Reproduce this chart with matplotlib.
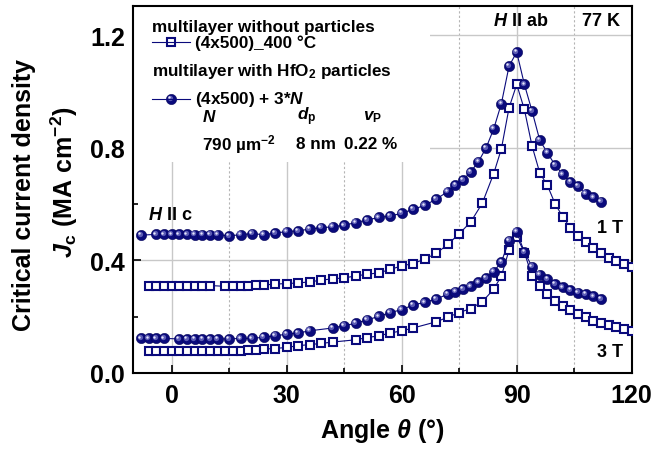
import numpy as np
import matplotlib
matplotlib.use("Agg")
import matplotlib.pyplot as plt
from matplotlib.transforms import offset_copy
from matplotlib.ticker import MultipleLocator
from matplotlib.patches import Rectangle

plt.rcParams["font.family"] = ["Liberation Sans", "DejaVu Sans"]
plt.rcParams["font.weight"] = "bold"
plt.rcParams["mathtext.fontset"] = "custom"
plt.rcParams["mathtext.rm"] = "Liberation Sans:bold"
plt.rcParams["mathtext.bf"] = "Liberation Sans:bold"
plt.rcParams["mathtext.it"] = "Liberation Sans:bold:italic"

# 1 T, multilayer with HfO2 particles (spheres)
ang_1t_p = [-8, -4, -2, 0, 2, 4, 6, 8, 10, 12,
            15, 18, 21, 24, 27, 30, 33, 36, 39, 42, 45, 48, 51, 54, 57, 60, 63, 66, 69,
            72, 74, 76, 78, 80, 82, 84, 86, 88, 90, 92, 94, 96, 98, 100, 102, 104, 106, 108, 110, 112]
jc_1t_p = [0.490, 0.493, 0.493, 0.493, 0.493, 0.493, 0.492, 0.492, 0.492, 0.492,
           0.487, 0.492, 0.495, 0.492, 0.497, 0.503, 0.505, 0.512, 0.516, 0.520, 0.525, 0.535,
           0.544, 0.553, 0.558, 0.568, 0.582, 0.596, 0.618,
           0.645, 0.668, 0.686, 0.715, 0.751, 0.800, 0.868, 0.958, 1.091, 1.141, 1.026, 0.931,
           0.828, 0.783, 0.739, 0.706, 0.679, 0.665, 0.638, 0.624, 0.609]

# 1 T, multilayer without particles (squares)
ang_1t_np = [-6, -4, -2, 0, 2, 4, 6, 8, 10,
             14, 16, 18, 20, 22, 24,
             27, 30, 33, 36, 39, 42, 45, 48, 51, 54, 57, 60, 63, 66, 69, 72, 75, 78, 81, 84,
             86, 88, 90, 92, 94, 96, 98, 100, 102, 104, 106, 108, 110, 112, 114, 116, 118, 120]
jc_1t_np = [0.311, 0.311, 0.311, 0.311, 0.311, 0.311, 0.311, 0.311, 0.311,
            0.308, 0.310, 0.310, 0.311, 0.312, 0.313,
            0.316, 0.318, 0.320, 0.324, 0.330, 0.335, 0.338, 0.345, 0.351, 0.356, 0.368, 0.381,
            0.389, 0.405, 0.425, 0.457, 0.495, 0.537, 0.603, 0.709,
            0.797, 0.943, 1.026, 0.937, 0.807, 0.712, 0.667, 0.602, 0.555, 0.516, 0.487, 0.464,
            0.443, 0.426, 0.410, 0.399, 0.387, 0.378]

# 3 T, with particles (spheres)
ang_3t_p = [-8, -6, -4, -2, 2, 4, 6, 8, 10, 12,
            15, 18, 21, 24, 27, 30, 33, 36,
            42, 45, 48, 51, 54, 57, 60, 63, 66, 69,
            72, 74, 76, 78, 80, 82, 84, 86, 88, 90,
            92, 94, 96, 98, 100, 102, 104, 106, 108, 110, 112]
jc_3t_p = [0.123, 0.123, 0.123, 0.123, 0.121, 0.121, 0.121, 0.121, 0.121, 0.121,
           0.121, 0.123, 0.123, 0.127, 0.132, 0.138, 0.142, 0.150,
           0.160, 0.168, 0.177, 0.189, 0.201, 0.215, 0.225, 0.242, 0.251, 0.263,
           0.280, 0.289, 0.298, 0.308, 0.322, 0.337, 0.360, 0.395, 0.470, 0.502,
           0.430, 0.378, 0.350, 0.334, 0.316, 0.304, 0.295, 0.286, 0.280, 0.272, 0.263]

# 3 T, without particles (squares)
ang_3t_np = [-6, -4, -2, 0, 2, 4, 6, 8, 10, 12, 14, 16, 18, 20, 22, 24,
             27, 30, 33, 36, 39, 42, 48, 51, 54, 57, 60, 63,
             69, 72, 75, 78, 81, 84, 86, 88, 90,
             92, 94, 96, 98, 100, 102, 104, 106, 108, 110, 112, 114, 116, 118, 120]
jc_3t_np = [0.079, 0.079, 0.079, 0.079, 0.079, 0.079, 0.079, 0.079, 0.079, 0.079, 0.079,
            0.079, 0.079, 0.081, 0.083, 0.085,
            0.087, 0.091, 0.097, 0.101, 0.105, 0.110, 0.118, 0.126, 0.132, 0.142, 0.150, 0.160,
            0.182, 0.198, 0.215, 0.229, 0.253, 0.298, 0.345, 0.437, 0.485,
            0.428, 0.345, 0.308, 0.280, 0.257, 0.239, 0.224, 0.209, 0.198, 0.186, 0.177,
            0.170, 0.162, 0.156, 0.150]

navy = "#0a0a7c"


def draw_squares(ax, x, y, tr):
    ax.plot(x, y, "-", color=navy, lw=0.8, transform=tr, zorder=3)
    ax.plot(x, y, "s", ms=5.4, mfc="white", mec=navy, mew=1.5, transform=tr, zorder=3.5)


def draw_spheres(ax, x, y, tr):
    fig = ax.figure
    ax.plot(x, y, "-", color=navy, lw=0.8, transform=tr, zorder=4)
    ax.plot(x, y, "o", ms=7.4, mfc=navy, mec="#05055a", mew=0.4, transform=tr, zorder=4.5)
    h1 = offset_copy(tr, fig=fig, x=-1.0, y=1.0, units="points")
    ax.plot(x, y, "o", ms=3.8, mfc="#5c5cb4", mec="none", transform=h1, zorder=5)
    h2 = offset_copy(tr, fig=fig, x=-1.3, y=1.3, units="points")
    ax.plot(x, y, "o", ms=1.7, mfc="#e6e6fa", mec="none", transform=h2, zorder=5.5)


fig = plt.figure(figsize=(6.55, 4.52), dpi=100)
ax = fig.add_axes([0.2035, 0.1726, 0.761, 0.812])

ax.set_xlim(-10, 120)
ax.set_ylim(0, 1.305)
ax.xaxis.set_major_locator(MultipleLocator(30))
ax.xaxis.set_minor_locator(MultipleLocator(15))
ax.yaxis.set_major_locator(MultipleLocator(0.4))
ax.yaxis.set_minor_locator(MultipleLocator(0.2))
ax.yaxis.set_major_formatter(matplotlib.ticker.FormatStrFormatter("%.1f"))
ax.set_axisbelow(True)
ax.grid(which="major", color="#c8c8c8", lw=1.0, ls="-")
ax.grid(which="minor", axis="x", color="#b4b4b4", lw=0.8, ls=(0, (2, 2)))
ax.tick_params(which="both", direction="in", width=1.2, labelsize=18)
ax.tick_params(which="major", length=5.5)
ax.tick_params(which="minor", length=3.5)
ax.tick_params(axis="y", pad=6)
ax.tick_params(axis="x", pad=7)
for sp in ax.spines.values():
    sp.set_linewidth(1.5)

draw_squares(ax, ang_1t_np, jc_1t_np, ax.transData)
draw_squares(ax, ang_3t_np, jc_3t_np, ax.transData)
draw_spheres(ax, ang_1t_p, jc_1t_p, ax.transData)
draw_spheres(ax, ang_3t_p, jc_3t_p, ax.transData)

# white legend panel
ax.add_patch(Rectangle((0, 0.575), 0.595, 0.425, transform=ax.transAxes,
                       facecolor="white", edgecolor="none", zorder=1))

fs = 12.3
ax.text(0.037, 0.943, "multilayer without particles", transform=ax.transAxes,
        fontsize=fs, va="center", zorder=6)
ax.plot([0.0375, 0.114], [0.901, 0.901], color=navy, lw=0.8, transform=ax.transAxes, zorder=6)
draw_squares(ax, [0.076], [0.901], ax.transAxes)
ax.text(0.124, 0.901, "(4x500)_400 °C", transform=ax.transAxes, fontsize=fs, va="center", zorder=6)
ax.text(0.037, 0.823, "multilayer with HfO$_2$ particles", transform=ax.transAxes,
        fontsize=fs, va="center", zorder=6)
ax.plot([0.0375, 0.114], [0.7466, 0.7466], color=navy, lw=0.8, transform=ax.transAxes, zorder=6)
draw_spheres(ax, [0.076], [0.7466], ax.transAxes)
ax.text(0.124, 0.7466, "(4x500) + 3*$N$", transform=ax.transAxes, fontsize=fs, va="center", zorder=6)

ax.text(0.137, 0.700, "$N$", transform=ax.transAxes, fontsize=fs, va="center")
ax.text(0.328, 0.700, r"$d_\mathrm{p}$", transform=ax.transAxes, fontsize=fs, va="center")
ax.text(0.461, 0.700, r"$v_\mathrm{P}$", transform=ax.transAxes, fontsize=fs, va="center")
ax.text(0.138, 0.624, "790 µm$^{-2}$", transform=ax.transAxes, fontsize=fs, va="center")
ax.text(0.326, 0.624, "8 nm", transform=ax.transAxes, fontsize=fs, va="center")
ax.text(0.423, 0.624, "0.22 %", transform=ax.transAxes, fontsize=fs, va="center")

# annotations
ax.text(-6.2, 0.562, "$H$ II c", fontsize=13, va="center")
ax.text(83.7, 1.252, "$H$ II ab", fontsize=13, va="center")
ax.text(106.9, 1.252, "77 K", fontsize=13, va="center")
ax.text(111, 0.516, "1 T", fontsize=13, va="center")
ax.text(111, 0.078, "3 T", fontsize=13, va="center")

fig.text(0.584, 0.0465, r"Angle $\theta$ (°)", fontsize=18, ha="center", va="center")
fig.text(24 / 655, 0.5686, "Critical current density", fontsize=18, rotation=90,
         ha="center", va="center")
fig.text(64 / 655, 0.597, r"$J_\mathrm{c}$ (MA cm$^{-2}$)", fontsize=18, rotation=90,
         ha="center", va="center")

fig.savefig("out.png", dpi=100, facecolor="white")
